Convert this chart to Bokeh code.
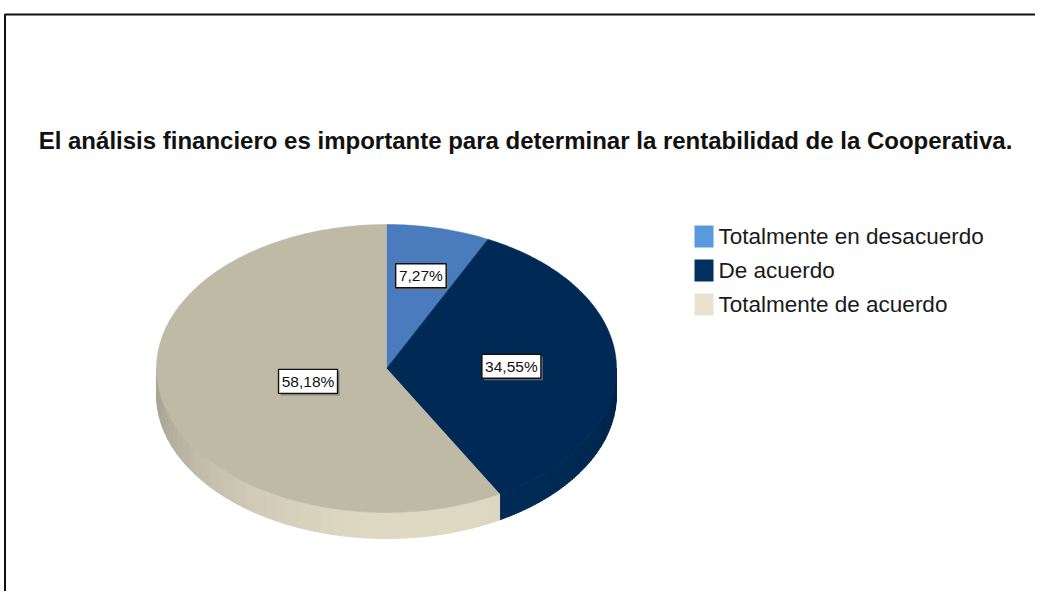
import math
from bokeh.plotting import figure
from bokeh.models import Range1d, ColumnDataSource
from bokeh.core.properties import value
from bokeh.embed import file_html
from bokeh.resources import INLINE

# ---- data ----
title = "El análisis financiero es importante para determinar la rentabilidad de la Cooperativa."
categories = ["Totalmente en desacuerdo", "De acuerdo", "Totalmente de acuerdo"]
percents = [7.27, 34.55, 58.18]
labels = ["7,27%", "34,55%", "58,18%"]

# ---- styles ----
top_colors = ["#4a7bbd", "#002a55", "#bfbaa6"]
side_colors = [(84, 138, 205), (2, 44, 88), (224, 218, 196)]
legend_colors = ["#5899e0", "#00305f", "#e8e3cf"]
FONT = "Liberation Sans"

W, H = 1035, 591
p = figure(width=W, height=H, output_backend="svg", toolbar_location=None,
           x_range=Range1d(0, W), y_range=Range1d(H, 0),
           min_border=0, outline_line_color=None, background_fill_color="white")
p.axis.visible = False
p.grid.visible = False

# frame
p.line(x=[W, 4.5, 4.5], y=[14, 14, H], line_color="#111111", line_width=2)

# title
p.text(x=[525], y=[140], text=[title], text_font=value(FONT), text_font_style="bold",
       text_font_size="24px", text_align="center", text_baseline="middle", text_color="#111111")

# pie geometry (pixel space)
cx, cy, rx, ry, depth = 386, 368, 230, 144, 26

def pt(theta, dy=0.0):
    return cx + rx * math.sin(theta), cy - ry * math.cos(theta) + dy

total = sum(percents)
bounds = [0.0]
for v in percents:
    bounds.append(bounds[-1] + v / total)

# side strips (front half only)
sx, sy, sc = [], [], []
for i in range(len(percents)):
    a0 = max(bounds[i] * 2 * math.pi, math.pi / 2)
    a1 = min(bounds[i + 1] * 2 * math.pi, 3 * math.pi / 2)
    if a1 <= a0:
        continue
    n = max(1, int((a1 - a0) / math.radians(3)))
    for k in range(n):
        t0 = a0 + (a1 - a0) * k / n
        t1 = a0 + (a1 - a0) * (k + 1) / n
        tm = 0.5 * (t0 + t1)
        f = 0.76 + 0.24 * max(0.0, math.cos(tm - math.radians(170)))
        r, g, b = side_colors[i]
        col = "#%02x%02x%02x" % (int(r * f), int(g * f), int(b * f))
        ts = [t0 + (t1 - t0) * j / 4 for j in range(5)]
        top = [pt(t) for t in ts]
        bot = [pt(t, depth) for t in reversed(ts)]
        sx.append([q[0] for q in top + bot])
        sy.append([q[1] for q in top + bot])
        sc.append(col)
p.patches(xs=sx, ys=sy, fill_color=sc, line_color=sc, line_width=1)

# top faces
tx, ty = [], []
for i in range(len(percents)):
    a0 = bounds[i] * 2 * math.pi
    a1 = bounds[i + 1] * 2 * math.pi
    n = max(8, int((a1 - a0) / math.radians(1)))
    pts = [(cx, cy)] + [pt(a0 + (a1 - a0) * j / n) for j in range(n + 1)]
    tx.append([q[0] for q in pts])
    ty.append([q[1] for q in pts])
p.patches(xs=tx, ys=ty, fill_color=top_colors, line_color=top_colors, line_width=0.5)

# labels at sector centroids
lx, ly, lw = [], [], []
for i, lab in enumerate(labels):
    a0 = bounds[i] * 2 * math.pi
    a1 = bounds[i + 1] * 2 * math.pi
    half = 0.5 * (a1 - a0)
    rc = 2 * math.sin(half) / (3 * half)
    mid = 0.5 * (a0 + a1)
    lx.append(cx + rc * rx * math.sin(mid))
    ly.append(cy - rc * ry * math.cos(mid))
    lw.append(8.5 * len(lab) + 8)
src = ColumnDataSource(dict(x=lx, y=ly, w=lw, sx=[v + 2 for v in lx], sy=[v + 2 for v in ly], t=labels))
p.rect(x="sx", y="sy", width="w", height=24, source=src, fill_color="#777777", line_color=None, fill_alpha=0.8)
p.rect(x="x", y="y", width="w", height=24, source=src, fill_color="white", line_color="#111111", line_width=1.4)
p.text(x="x", y="y", text="t", source=src, text_font=value(FONT), text_font_size="15.5px",
       text_align="center", text_baseline="middle", text_color="#111111")

# legend
ly0, lstep = 236, 34
leg_y = [ly0 + lstep * i for i in range(len(categories))]
p.rect(x=[703.5] * len(categories), y=leg_y, width=19, height=22, fill_color=legend_colors, line_color=None)
p.text(x=[718] * len(categories), y=leg_y, text=categories, text_font=value(FONT), text_font_size="22.5px",
       text_align="left", text_baseline="middle", text_color="#1a1a1a")

open("out.html", "w").write(file_html(p, INLINE))
